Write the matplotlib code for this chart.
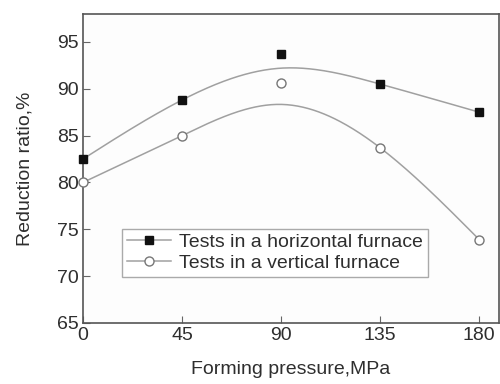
import numpy as np
import matplotlib
matplotlib.use("Agg")
import matplotlib.pyplot as plt
from matplotlib.lines import Line2D

plt.rcParams['font.family'] = ['Liberation Sans', 'DejaVu Sans']

pressure = [0, 45, 90, 135, 180]
horizontal = [82.5, 88.8, 93.7, 90.5, 87.5]
vertical = [80.0, 85.0, 90.6, 83.7, 73.9]
xticks = [0, 45, 90, 135, 180]
yticks = [65, 70, 75, 80, 85, 90, 95]

txt = '#2e2e2e'
line_c = '#a0a0a0'


def natural_spline(x, y, xs):
    x = np.asarray(x, float)
    y = np.asarray(y, float)
    n = len(x)
    h = np.diff(x)
    A = np.zeros((n, n))
    b = np.zeros(n)
    A[0, 0] = A[-1, -1] = 1
    for i in range(1, n - 1):
        A[i, i - 1] = h[i - 1]
        A[i, i] = 2 * (h[i - 1] + h[i])
        A[i, i + 1] = h[i]
        b[i] = 6 * ((y[i + 1] - y[i]) / h[i] - (y[i] - y[i - 1]) / h[i - 1])
    M = np.linalg.solve(A, b)
    k = np.clip(np.searchsorted(x, xs) - 1, 0, n - 2)
    t0 = x[k + 1] - xs
    t1 = xs - x[k]
    hk = h[k]
    return (M[k] * t0 ** 3 + M[k + 1] * t1 ** 3) / (6 * hk) \
        + (y[k] / hk - M[k] * hk / 6) * t0 + (y[k + 1] / hk - M[k + 1] * hk / 6) * t1


def smooth_curve(x, y, xs, alpha=0.4):
    # spline through the points, with the middle peak damped
    y = np.asarray(y, float)
    d4 = np.array([1, -4, 6, -4, 1], float)
    y_s = y.copy()
    y_s[2] = y[2] - (1 - alpha) * (d4 @ y) / 6.0
    return natural_spline(x, y_s, xs)


fig = plt.figure(figsize=(5, 3.84), dpi=100)
fig.patch.set_facecolor('white')
ax = fig.add_axes([0.166, 0.159, 0.832, 0.805])
ax.set_facecolor('#fdfdfd')

xs = np.linspace(0, 180, 300)
ax.plot(xs, smooth_curve(pressure, horizontal, xs), color=line_c, lw=1.1, zorder=2)
ax.plot(xs, smooth_curve(pressure, vertical, xs), color=line_c, lw=1.1, zorder=2)

ax.plot(pressure, horizontal, ls='none', marker='s', ms=5.5, color='#111111', zorder=3, clip_on=False)
ax.plot(pressure, vertical, ls='none', marker='o', ms=6.5, mfc='white', mec='#777777', mew=1.0, zorder=3, clip_on=False)

ax.set_xlim(0, 189)
ax.set_ylim(65, 98)
ax.set_xticks(xticks)
ax.set_yticks(yticks)
ax.tick_params(axis='x', direction='in', length=5, color='#666666', labelsize=14, labelcolor=txt, pad=3)
ax.tick_params(axis='y', direction='in', length=5, color='#666666', labelsize=14, labelcolor=txt, pad=3)
for s in ax.spines.values():
    s.set_color('#555555')
    s.set_linewidth(1.2)

ax.set_xlabel('Forming pressure,MPa', fontsize=14, color=txt, labelpad=12)
ax.set_ylabel('Reduction ratio,%', fontsize=14, color=txt, labelpad=17)

handles = [
    Line2D([], [], color=line_c, lw=1.1, marker='s', ms=5.5, mfc='#111111', mec='#111111'),
    Line2D([], [], color=line_c, lw=1.1, marker='o', ms=6.5, mfc='white', mec='#777777'),
]
leg = ax.legend(handles, ['Tests in a horizontal furnace', 'Tests in a vertical furnace'],
                loc='upper left', bbox_to_anchor=(0.093, 0.305), fontsize=14,
                frameon=True, fancybox=False, edgecolor='#aaaaaa', framealpha=1,
                handlelength=2.3, handletextpad=0.4, borderpad=0.25, labelspacing=0.18,
                borderaxespad=0)
leg.get_frame().set_linewidth(1.0)
for t in leg.get_texts():
    t.set_color(txt)

fig.savefig('out.png', dpi=100)
